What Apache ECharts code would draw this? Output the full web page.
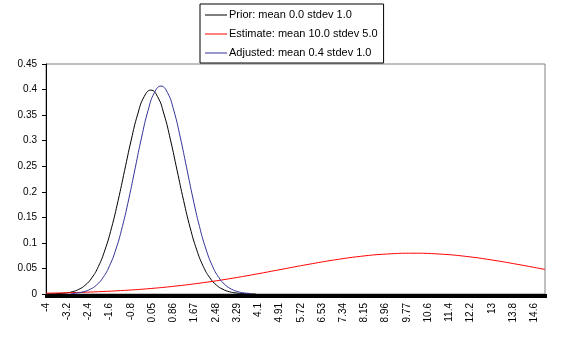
<!DOCTYPE html>
<html>
<head>
<meta charset="utf-8">
<script src="https://cdn.jsdelivr.net/npm/echarts@6/dist/echarts.min.js"></script>
<style>
html, body { margin: 0; padding: 0; background: #ffffff; }
#chart { width: 565px; height: 341px; }
</style>
</head>
<body>
<div id="chart"></div>
<script>
// Category axis: x from -4 in steps of 0.081 (236 categories), labelled every 10th
const xStart = -4;
const xStep = 0.081;
const categoryCount = 236;
const tickLabels = ['-4', '-3.2', '-2.4', '-1.6', '-0.8', '0.05', '0.86', '1.67', '2.48', '3.29',
  '4.1', '4.91', '5.72', '6.53', '7.34', '8.15', '8.96', '9.77', '10.6', '11.4', '12.2', '13', '13.8', '14.6'];

const seriesNames = ['Prior: mean 0.0 stdev 1.0', 'Estimate: mean 10.0 stdev 5.0', 'Adjusted: mean 0.4 stdev 1.0'];

// Prior curve
const priorX = [-4, -3.75, -3.5, -3.25, -3, -2.75, -2.5, -2.25, -2, -1.75, -1.5, -1.25, -1, -0.75, -0.5, -0.25,
  0, 0.25, 0.5, 0.75, 1, 1.25, 1.5, 1.75, 2, 2.25, 2.5, 2.75, 3, 3.25, 3.5, 3.75, 4];
const priorY = [0.0001, 0.0004, 0.0009, 0.0020, 0.0044, 0.0091, 0.0175, 0.0317, 0.0540, 0.0863, 0.1295, 0.1826, 0.2420, 0.3011, 0.3521, 0.3867,
  0.3989, 0.3867, 0.3521, 0.3011, 0.2420, 0.1826, 0.1295, 0.0863, 0.0540, 0.0317, 0.0175, 0.0091, 0.0044, 0.0020, 0.0009, 0.0004, 0.0001];

// Estimate curve
const estimateX = [-4, -3, -2, -1, 0, 1, 2, 3, 4, 5, 6, 7, 8, 9, 10, 11, 12, 13, 14, 15, 15.035];
const estimateY = [0.0016, 0.0027, 0.0045, 0.0071, 0.0108, 0.0158, 0.0222, 0.0299, 0.0388, 0.0484, 0.0579, 0.0666, 0.0737, 0.0782,
  0.0798, 0.0782, 0.0737, 0.0666, 0.0579, 0.0484, 0.0481];

// Adjusted curve
const adjustedX = [-3.047, -2.802, -2.557, -2.312, -2.067, -1.822, -1.577, -1.331, -1.086, -0.841, -0.596, -0.351, -0.106, 0.139,
  0.385, 0.630, 0.875, 1.120, 1.365, 1.610, 1.855, 2.101, 2.346, 2.591, 2.836, 3.081, 3.326, 3.571, 3.817];
const adjustedY = [0.0009, 0.0021, 0.0045, 0.0093, 0.0178, 0.0323, 0.0551, 0.0880, 0.1321, 0.1862, 0.2468, 0.3071, 0.3591, 0.3944,
  0.4068, 0.3944, 0.3591, 0.3071, 0.2468, 0.1862, 0.1321, 0.0880, 0.0551, 0.0323, 0.0178, 0.0093, 0.0045, 0.0021, 0.0009];

const yMin = 0, yMax = 0.45, yInterval = 0.05;

const categories = [];
for (let i = 0; i < categoryCount; i++) categories.push((xStart + xStep * i).toFixed(3));
const xMax = xStart + xStep * (categoryCount - 1);

function pairs(xs, ys) { return xs.map((x, i) => [x, ys[i]]); }

// thin horizontal line inside a 22x14 box (the corner points only fix the box)
const LINE_ICON = 'path://M0,0 L0,0.01 L0.01,0 Z M0,6.5 L22,6.5 L22,7.5 L0,7.5 Z M22,14 L22,13.99 L21.99,14 Z';

const FONT = 'Liberation Sans, Arial, sans-serif';
const chart = echarts.init(document.getElementById('chart'), null, { renderer: 'canvas' });
chart.setOption({
  animation: false,
  backgroundColor: '#ffffff',
  textStyle: { fontFamily: FONT },
  grid: { left: 46, right: 20, top: 64, bottom: 47, show: true, borderColor: '#808080', borderWidth: 1, backgroundColor: 'transparent' },
  legend: {
    orient: 'vertical',
    left: 200, top: 4,
    padding: [4, 6, 3, 5],
    itemWidth: 22, itemHeight: 14, itemGap: 5,
    borderColor: '#000000', borderWidth: 1, borderRadius: 0,
    backgroundColor: '#ffffff',
    icon: LINE_ICON,
    textStyle: { fontFamily: FONT, fontSize: 11, color: '#000000', padding: [0, 0, 0, -3] },
    data: seriesNames
  },
  xAxis: [{
    type: 'category',
    data: categories,
    boundaryGap: false,
    axisLine: { show: true, onZero: false, lineStyle: { color: '#000000', width: 1 } },
    axisTick: { show: true, interval: 0, length: 4, inside: false, lineStyle: { color: '#000000', width: 3 } },
    axisLabel: {
      interval: 9, rotate: 90, margin: 9, fontSize: 10, color: '#000000', fontFamily: FONT,
      formatter: (v, idx) => tickLabels[idx / 10] || ''
    },
    splitLine: { show: false }
  }, {
    type: 'value', min: xStart, max: xMax, show: false, position: 'bottom'
  }],
  yAxis: {
    type: 'value', min: yMin, max: yMax, interval: yInterval,
    axisLine: { show: true, onZero: false, lineStyle: { color: '#000000', width: 1 } },
    axisTick: { show: true, length: 4, lineStyle: { color: '#000000' } },
    axisLabel: { margin: 9, fontSize: 10, color: '#000000', fontFamily: FONT },
    splitLine: { show: false }
  },
  series: [
    { name: seriesNames[0], type: 'line', xAxisIndex: 1, data: pairs(priorX, priorY), smooth: true, showSymbol: false, symbol: 'none',
      lineStyle: { color: '#000000', width: 1 }, itemStyle: { color: '#000000' } },
    { name: seriesNames[1], type: 'line', xAxisIndex: 1, data: pairs(estimateX, estimateY), smooth: true, showSymbol: false, symbol: 'none',
      lineStyle: { color: '#ff0000', width: 1 }, itemStyle: { color: '#ff0000' } },
    { name: seriesNames[2], type: 'line', xAxisIndex: 1, data: pairs(adjustedX, adjustedY), smooth: true, showSymbol: false, symbol: 'none',
      lineStyle: { color: '#333399', width: 1 }, itemStyle: { color: '#333399' } }
  ]
});
</script>
</body>
</html>
